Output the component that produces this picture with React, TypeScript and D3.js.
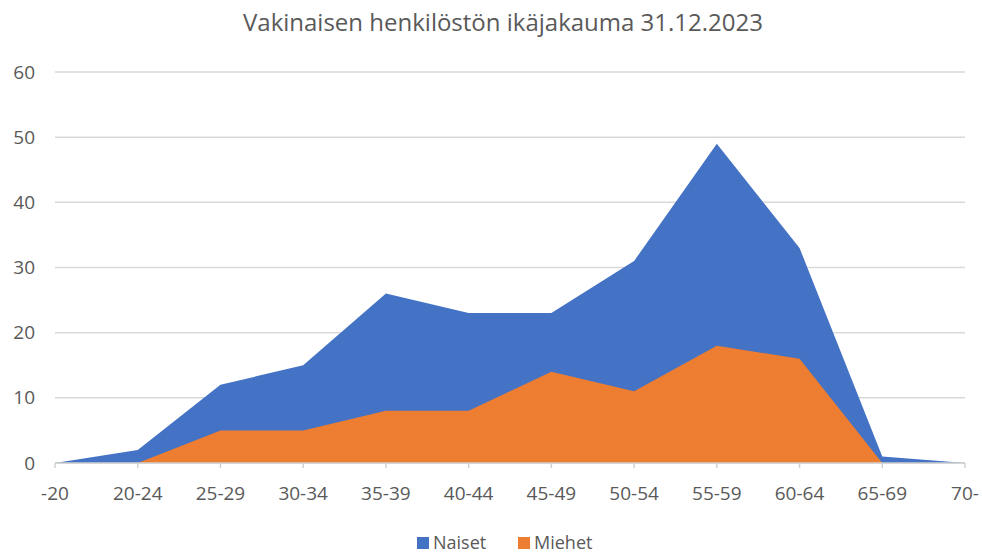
import * as d3 from 'd3';

const categories = ['-20', '20-24', '25-29', '30-34', '35-39', '40-44', '45-49', '50-54', '55-59', '60-64', '65-69', '70-'];
const naiset = [0, 2, 12, 15, 26, 23, 23, 31, 49, 33, 1, 0];
const miehet = [0, 0, 5, 5, 8, 8, 14, 11, 18, 16, 0, 0];
const yTicks = [0, 10, 20, 30, 40, 50, 60];
const seriesNames = ['Naiset', 'Miehet'];
const colors = ['#4472c4', '#ed7d31'];

const W = 982;
const H = 553;
const margin = { top: 72, right: 17, bottom: 90, left: 55 };

export default function App() {
  const x = d3
    .scalePoint<string>()
    .domain(categories)
    .range([margin.left, W - margin.right]);
  const y = d3
    .scaleLinear()
    .domain([0, 60])
    .range([H - margin.bottom, margin.top]);

  // area generator for one series
  const area = d3
    .area<number>()
    .x((_d, i) => x(categories[i]) as number)
    .y0(y(0))
    .y1((d) => y(d));

  const series = [naiset, miehet];
  const textColor = '#595959';
  const font = '"Open Sans", "Liberation Sans", sans-serif';
  const legendX = [417, 518];

  return (
    <svg width={W} height={H} style={{ position: 'absolute', left: 0, top: 0, background: '#fff' }}>
      <text x={503} y={23} dy="0.35em" textAnchor="middle" fontSize={24} fill={textColor} fontFamily={font}>
        Vakinaisen henkilöstön ikäjakauma 31.12.2023
      </text>

      {yTicks.map((t) => (
        <g key={t}>
          <line x1={margin.left} x2={W - margin.right} y1={y(t)} y2={y(t)} stroke="#d9d9d9" strokeWidth={1.5} />
          <text x={35} y={y(t)} dy="0.35em" textAnchor="end" fontSize={19} fill={textColor} fontFamily={font}>
            {t}
          </text>
        </g>
      ))}

      {series.map((s, i) => (
        <path key={seriesNames[i]} d={area(s) || ''} fill={colors[i]} />
      ))}

      <line x1={margin.left} x2={W - margin.right} y1={y(0)} y2={y(0)} stroke="#d0d0d0" strokeWidth={1.5} />
      {categories.map((c) => (
        <g key={c}>
          <line x1={x(c)} x2={x(c)} y1={y(0)} y2={y(0) + 5} stroke="#d0d0d0" strokeWidth={1.5} />
          <text x={x(c)} y={y(0) + 30} dy="0.35em" textAnchor="middle" fontSize={19} fill={textColor} fontFamily={font}>
            {c}
          </text>
        </g>
      ))}

      {seriesNames.map((n, i) => (
        <g key={n} transform={`translate(${legendX[i]},${537})`}>
          <rect x={0} y={0} width={12} height={12} fill={colors[i]} />
          <text x={16} y={6} dy="0.35em" fontSize={18} fill={textColor} fontFamily={font}>
            {n}
          </text>
        </g>
      ))}
    </svg>
  );
}
